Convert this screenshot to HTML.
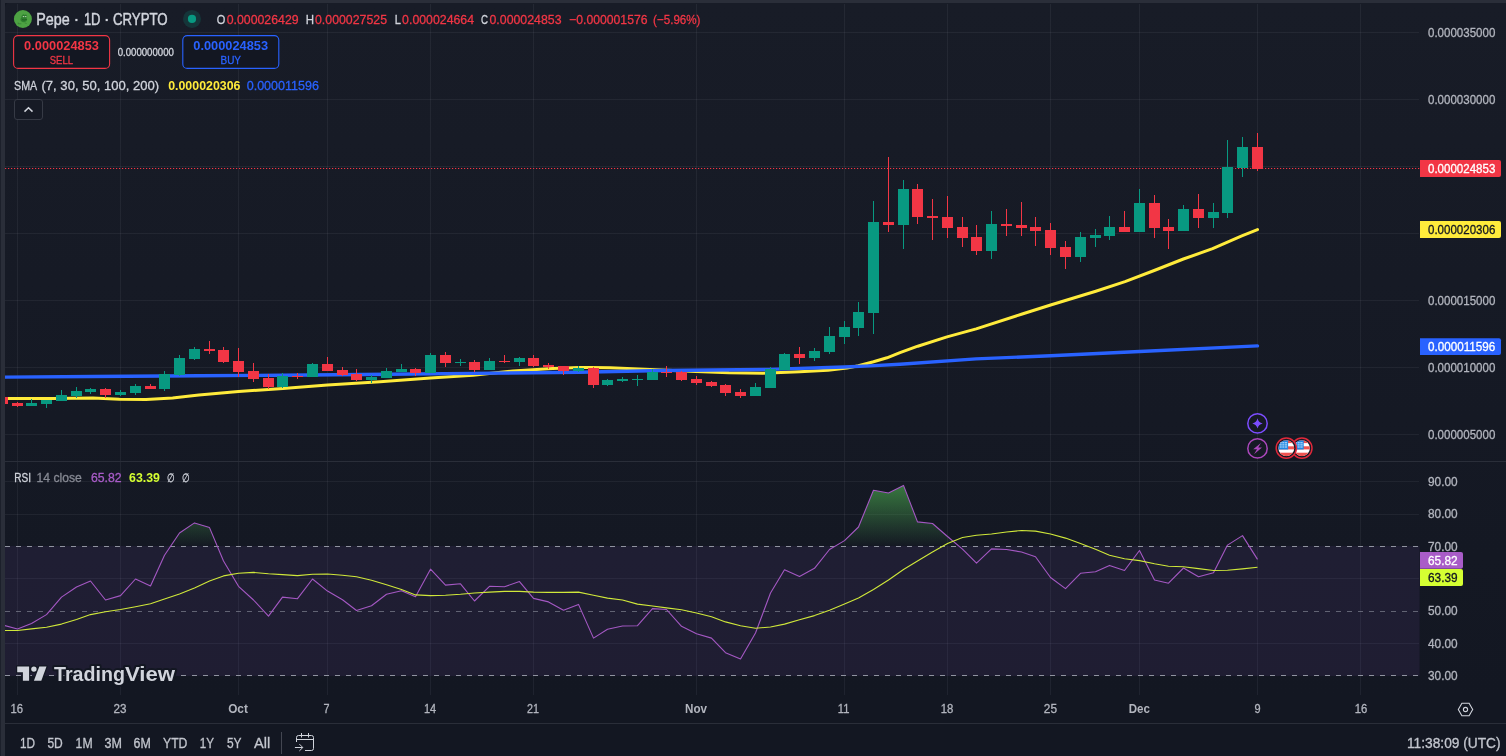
<!DOCTYPE html>
<html lang="en">
<head>
<meta charset="utf-8">
<title>Pepe · 1D · CRYPTO — TradingView</title>
<style>
html,body{margin:0;padding:0;background:#131722;}
body{width:1506px;height:756px;overflow:hidden;font-family:"Liberation Sans", sans-serif;}
#chart{position:absolute;left:0;top:0;width:1506px;height:756px;display:block;}
svg text{font-family:"Liberation Sans", sans-serif;white-space:pre;}
#chart{will-change:transform;}
</style>
</head>
<body>
<svg id="chart" width="1506" height="756" viewBox="0 0 1506 756">
<defs>
<linearGradient id="bg" x1="0" y1="0" x2="0" y2="1"><stop offset="0" stop-color="#181c27"/><stop offset="1" stop-color="#131722"/></linearGradient>
<linearGradient id="ob" gradientUnits="userSpaceOnUse" x1="0" y1="449" x2="0" y2="546.4"><stop offset="0" stop-color="#4caf50" stop-opacity="1"/><stop offset="1" stop-color="#4caf50" stop-opacity="0"/></linearGradient>
<clipPath id="plot"><rect x="5" y="3" width="1414.5" height="692"/></clipPath>
<clipPath id="above70"><rect x="5" y="462" width="1414.5" height="84.4"/></clipPath>
<clipPath id="flagclip"><circle cx="0" cy="0" r="8"/></clipPath>
</defs>

<rect x="0" y="0" width="1506" height="756" fill="#131722"/>
<rect x="0" y="0" width="1506" height="3" fill="#2a2e39"/>
<rect x="0" y="0" width="5" height="756" fill="#2a2e39"/>
<rect x="0" y="0" width="1" height="756" fill="#1c202b"/>
<path d="M5 8 Q5 3 10 3 L1506 3 L1506 695 L5 695 Z" fill="url(#bg)"/>
<g id="grid" stroke="#f0f3fa" stroke-opacity="0.06" stroke-width="1" shape-rendering="crispEdges">
<line x1="5" y1="32.5" x2="1419" y2="32.5"/>
<line x1="5" y1="99.5" x2="1419" y2="99.5"/>
<line x1="5" y1="166.5" x2="1419" y2="166.5"/>
<line x1="5" y1="233.5" x2="1419" y2="233.5"/>
<line x1="5" y1="300.5" x2="1419" y2="300.5"/>
<line x1="5" y1="367.5" x2="1419" y2="367.5"/>
<line x1="5" y1="434.5" x2="1419" y2="434.5"/>
<line x1="5" y1="481.5" x2="1419" y2="481.5"/>
<line x1="5" y1="514.5" x2="1419" y2="514.5"/>
<line x1="5" y1="578.5" x2="1419" y2="578.5"/>
<line x1="5" y1="643.5" x2="1419" y2="643.5"/>
<line x1="17.5" y1="4" x2="17.5" y2="695"/>
<line x1="120.5" y1="4" x2="120.5" y2="695"/>
<line x1="238.5" y1="4" x2="238.5" y2="695"/>
<line x1="327.5" y1="4" x2="327.5" y2="695"/>
<line x1="430.5" y1="4" x2="430.5" y2="695"/>
<line x1="533.5" y1="4" x2="533.5" y2="695"/>
<line x1="696.5" y1="4" x2="696.5" y2="695"/>
<line x1="844.5" y1="4" x2="844.5" y2="695"/>
<line x1="947.5" y1="4" x2="947.5" y2="695"/>
<line x1="1050.5" y1="4" x2="1050.5" y2="695"/>
<line x1="1139.5" y1="4" x2="1139.5" y2="695"/>
<line x1="1257.5" y1="4" x2="1257.5" y2="695"/>
<line x1="1360.5" y1="4" x2="1360.5" y2="695"/>
</g>
<g id="rsi-band">
<rect x="5" y="546" width="1414.5" height="130" fill="#8e5ac5" fill-opacity="0.1"/>
<line x1="5" y1="546.5" x2="1419.5" y2="546.5" stroke="#9093a0" stroke-opacity="1" stroke-width="1" stroke-dasharray="5 6"/>
<line x1="5" y1="611.5" x2="1419.5" y2="611.5" stroke="#9093a0" stroke-opacity="0.6" stroke-width="1" stroke-dasharray="5 6"/>
<line x1="5" y1="675.5" x2="1419.5" y2="675.5" stroke="#9093a0" stroke-opacity="1" stroke-width="1" stroke-dasharray="5 6"/>
</g>
<rect x="5" y="461" width="1501" height="1" fill="#2a2e39"/>
<line x1="5" y1="168.5" x2="1420" y2="168.5" stroke="#f23645" stroke-width="1.2" stroke-dasharray="1.2 1.8"/>
<polyline id="sma50" points="5.0,398.7 8.0,398.5 53.0,398.5 93.0,398.0 119.5,399.3 146.0,399.6 172.6,398.0 190.0,396.0 199.0,395.0 238.5,391.5 283.0,388.4 327.5,385.1 380.0,381.8 430.5,378.0 473.0,375.2 513.0,370.9 552.6,368.5 579.0,367.5 590.0,367.6 610.0,367.8 650.0,369.6 696.0,371.4 729.0,372.8 762.5,373.2 799.7,371.7 828.0,370.2 847.0,368.1 858.4,365.7 873.5,361.7 887.0,357.8 900.0,352.7 917.8,346.2 947.0,336.9 976.2,328.9 1021.4,314.3 1050.6,305.0 1095.8,291.2 1125.0,281.6 1154.2,270.5 1183.4,259.0 1212.6,248.7 1241.8,235.9 1257.5,229.6" fill="none" stroke="#ffeb3b" stroke-width="3" stroke-linejoin="round" stroke-linecap="round" clip-path="url(#plot)"/>
<polyline id="sma200" points="5.0,377.1 93.0,376.5 199.0,375.8 283.0,375.2 389.0,374.2 473.0,373.4 579.0,372.2 663.0,370.5 769.0,369.4 844.0,367.0 870.0,365.9 900.0,364.2 976.0,358.9 1050.6,355.7 1139.6,351.5 1257.5,345.9" fill="none" stroke="#2962ff" stroke-width="3.4" stroke-linejoin="round" stroke-linecap="round" clip-path="url(#plot)"/>
<g id="candles" clip-path="url(#plot)">
<rect x="2.0" y="397" width="1" height="7" fill="#f23645"/><rect x="-3.0" y="397" width="11" height="7" fill="#f23645"/>
<rect x="17.0" y="402" width="1" height="5" fill="#f23645"/><rect x="12.0" y="403" width="11" height="3" fill="#f23645"/>
<rect x="31.0" y="399" width="1" height="7" fill="#089981"/><rect x="26.0" y="403" width="11" height="3" fill="#089981"/>
<rect x="46.0" y="400" width="1" height="8" fill="#089981"/><rect x="41.0" y="400" width="11" height="4" fill="#089981"/>
<rect x="61.0" y="390" width="1" height="11" fill="#089981"/><rect x="56.0" y="395" width="11" height="6" fill="#089981"/>
<rect x="76.0" y="387" width="1" height="11" fill="#089981"/><rect x="71.0" y="391" width="11" height="5" fill="#089981"/>
<rect x="90.0" y="388" width="1" height="6" fill="#089981"/><rect x="85.0" y="389" width="11" height="3" fill="#089981"/>
<rect x="105.0" y="388" width="1" height="10" fill="#f23645"/><rect x="100.0" y="389" width="11" height="6" fill="#f23645"/>
<rect x="120.0" y="390" width="1" height="6" fill="#089981"/><rect x="115.0" y="392" width="11" height="3" fill="#089981"/>
<rect x="135.0" y="384" width="1" height="11" fill="#089981"/><rect x="130.0" y="386" width="11" height="7" fill="#089981"/>
<rect x="150.0" y="384" width="1" height="5" fill="#f23645"/><rect x="145.0" y="386" width="11" height="3" fill="#f23645"/>
<rect x="164.0" y="371" width="1" height="20" fill="#089981"/><rect x="159.0" y="374" width="11" height="15" fill="#089981"/>
<rect x="179.0" y="355" width="1" height="21" fill="#089981"/><rect x="174.0" y="358" width="11" height="17" fill="#089981"/>
<rect x="194.0" y="347" width="1" height="13" fill="#089981"/><rect x="189.0" y="349" width="11" height="10" fill="#089981"/>
<rect x="209.0" y="341" width="1" height="13" fill="#f23645"/><rect x="204.0" y="349" width="11" height="2" fill="#f23645"/>
<rect x="223.0" y="347" width="1" height="16" fill="#f23645"/><rect x="218.0" y="350" width="11" height="12" fill="#f23645"/>
<rect x="238.0" y="348" width="1" height="29" fill="#f23645"/><rect x="233.0" y="361" width="11" height="11" fill="#f23645"/>
<rect x="253.0" y="363" width="1" height="19" fill="#f23645"/><rect x="248.0" y="371" width="11" height="8" fill="#f23645"/>
<rect x="268.0" y="374" width="1" height="15" fill="#f23645"/><rect x="263.0" y="378" width="11" height="9" fill="#f23645"/>
<rect x="282.0" y="373" width="1" height="15" fill="#089981"/><rect x="277.0" y="376" width="11" height="11" fill="#089981"/>
<rect x="297.0" y="373" width="1" height="6" fill="#f23645"/><rect x="292.0" y="376" width="11" height="1" fill="#f23645"/>
<rect x="312.0" y="363" width="1" height="14" fill="#089981"/><rect x="307.0" y="364" width="11" height="13" fill="#089981"/>
<rect x="327.0" y="357" width="1" height="14" fill="#f23645"/><rect x="322.0" y="364" width="11" height="7" fill="#f23645"/>
<rect x="342.0" y="367" width="1" height="9" fill="#f23645"/><rect x="337.0" y="370" width="11" height="5" fill="#f23645"/>
<rect x="356.0" y="369" width="1" height="12" fill="#f23645"/><rect x="351.0" y="374" width="11" height="6" fill="#f23645"/>
<rect x="371.0" y="375" width="1" height="8" fill="#089981"/><rect x="366.0" y="377" width="11" height="3" fill="#089981"/>
<rect x="386.0" y="368" width="1" height="10" fill="#089981"/><rect x="381.0" y="371" width="11" height="7" fill="#089981"/>
<rect x="401.0" y="364" width="1" height="8" fill="#089981"/><rect x="396.0" y="369" width="11" height="3" fill="#089981"/>
<rect x="415.0" y="368" width="1" height="8" fill="#f23645"/><rect x="410.0" y="369" width="11" height="4" fill="#f23645"/>
<rect x="430.0" y="353" width="1" height="20" fill="#089981"/><rect x="425.0" y="355" width="11" height="18" fill="#089981"/>
<rect x="445.0" y="352" width="1" height="15" fill="#f23645"/><rect x="440.0" y="355" width="11" height="8" fill="#f23645"/>
<rect x="460.0" y="359" width="1" height="7" fill="#089981"/><rect x="455.0" y="362" width="11" height="1" fill="#089981"/>
<rect x="474.0" y="360" width="1" height="12" fill="#f23645"/><rect x="469.0" y="362" width="11" height="8" fill="#f23645"/>
<rect x="489.0" y="358" width="1" height="12" fill="#089981"/><rect x="484.0" y="361" width="11" height="9" fill="#089981"/>
<rect x="504.0" y="355" width="1" height="8" fill="#f23645"/><rect x="499.0" y="361" width="11" height="1" fill="#f23645"/>
<rect x="519.0" y="357" width="1" height="9" fill="#089981"/><rect x="514.0" y="358" width="11" height="4" fill="#089981"/>
<rect x="533.0" y="355" width="1" height="12" fill="#f23645"/><rect x="528.0" y="358" width="11" height="8" fill="#f23645"/>
<rect x="548.0" y="363" width="1" height="6" fill="#f23645"/><rect x="543.0" y="365" width="11" height="2" fill="#f23645"/>
<rect x="563.0" y="366" width="1" height="9" fill="#f23645"/><rect x="558.0" y="366" width="11" height="5" fill="#f23645"/>
<rect x="578.0" y="366" width="1" height="6" fill="#089981"/><rect x="573.0" y="368" width="11" height="3" fill="#089981"/>
<rect x="593.0" y="367" width="1" height="21" fill="#f23645"/><rect x="588.0" y="368" width="11" height="17" fill="#f23645"/>
<rect x="607.0" y="379" width="1" height="7" fill="#089981"/><rect x="602.0" y="380" width="11" height="5" fill="#089981"/>
<rect x="622.0" y="377" width="1" height="5" fill="#089981"/><rect x="617.0" y="379" width="11" height="2" fill="#089981"/>
<rect x="637.0" y="375" width="1" height="11" fill="#089981"/><rect x="632.0" y="379" width="11" height="1" fill="#089981"/>
<rect x="652.0" y="369" width="1" height="11" fill="#089981"/><rect x="647.0" y="372" width="11" height="8" fill="#089981"/>
<rect x="666.0" y="366" width="1" height="11" fill="#f23645"/><rect x="661.0" y="372" width="11" height="1" fill="#f23645"/>
<rect x="681.0" y="371" width="1" height="10" fill="#f23645"/><rect x="676.0" y="372" width="11" height="8" fill="#f23645"/>
<rect x="696.0" y="376" width="1" height="9" fill="#f23645"/><rect x="691.0" y="379" width="11" height="4" fill="#f23645"/>
<rect x="711.0" y="381" width="1" height="6" fill="#f23645"/><rect x="706.0" y="382" width="11" height="4" fill="#f23645"/>
<rect x="725.0" y="384" width="1" height="12" fill="#f23645"/><rect x="720.0" y="385" width="11" height="8" fill="#f23645"/>
<rect x="740.0" y="389" width="1" height="9" fill="#f23645"/><rect x="735.0" y="392" width="11" height="4" fill="#f23645"/>
<rect x="755.0" y="383" width="1" height="13" fill="#089981"/><rect x="750.0" y="387" width="11" height="9" fill="#089981"/>
<rect x="770.0" y="367" width="1" height="21" fill="#089981"/><rect x="765.0" y="369" width="11" height="19" fill="#089981"/>
<rect x="784.0" y="353" width="1" height="17" fill="#089981"/><rect x="779.0" y="354" width="11" height="16" fill="#089981"/>
<rect x="799.0" y="347" width="1" height="17" fill="#f23645"/><rect x="794.0" y="354" width="11" height="4" fill="#f23645"/>
<rect x="814.0" y="348" width="1" height="13" fill="#089981"/><rect x="809.0" y="351" width="11" height="7" fill="#089981"/>
<rect x="829.0" y="327" width="1" height="27" fill="#089981"/><rect x="824.0" y="336" width="11" height="16" fill="#089981"/>
<rect x="844.0" y="321" width="1" height="23" fill="#089981"/><rect x="839.0" y="327" width="11" height="10" fill="#089981"/>
<rect x="858.0" y="302" width="1" height="34" fill="#089981"/><rect x="853.0" y="312" width="11" height="16" fill="#089981"/>
<rect x="873.0" y="201" width="1" height="133" fill="#089981"/><rect x="868.0" y="222" width="11" height="91" fill="#089981"/>
<rect x="888.0" y="157" width="1" height="75" fill="#f23645"/><rect x="883.0" y="222" width="11" height="3" fill="#f23645"/>
<rect x="903.0" y="180" width="1" height="69" fill="#089981"/><rect x="898.0" y="189" width="11" height="36" fill="#089981"/>
<rect x="917.0" y="184" width="1" height="40" fill="#f23645"/><rect x="912.0" y="189" width="11" height="28" fill="#f23645"/>
<rect x="932.0" y="199" width="1" height="41" fill="#f23645"/><rect x="927.0" y="216" width="11" height="2" fill="#f23645"/>
<rect x="947.0" y="196" width="1" height="42" fill="#f23645"/><rect x="942.0" y="217" width="11" height="11" fill="#f23645"/>
<rect x="962.0" y="217" width="1" height="30" fill="#f23645"/><rect x="957.0" y="227" width="11" height="11" fill="#f23645"/>
<rect x="976.0" y="225" width="1" height="30" fill="#f23645"/><rect x="971.0" y="237" width="11" height="14" fill="#f23645"/>
<rect x="991.0" y="211" width="1" height="48" fill="#089981"/><rect x="986.0" y="224" width="11" height="27" fill="#089981"/>
<rect x="1006.0" y="209" width="1" height="27" fill="#f23645"/><rect x="1001.0" y="224" width="11" height="2" fill="#f23645"/>
<rect x="1021.0" y="202" width="1" height="34" fill="#f23645"/><rect x="1016.0" y="225" width="11" height="3" fill="#f23645"/>
<rect x="1035.0" y="217" width="1" height="29" fill="#f23645"/><rect x="1030.0" y="227" width="11" height="4" fill="#f23645"/>
<rect x="1050.0" y="223" width="1" height="32" fill="#f23645"/><rect x="1045.0" y="230" width="11" height="18" fill="#f23645"/>
<rect x="1065.0" y="241" width="1" height="28" fill="#f23645"/><rect x="1060.0" y="247" width="11" height="10" fill="#f23645"/>
<rect x="1080.0" y="232" width="1" height="30" fill="#089981"/><rect x="1075.0" y="237" width="11" height="20" fill="#089981"/>
<rect x="1095.0" y="229" width="1" height="18" fill="#089981"/><rect x="1090.0" y="235" width="11" height="3" fill="#089981"/>
<rect x="1109.0" y="216" width="1" height="24" fill="#089981"/><rect x="1104.0" y="227" width="11" height="9" fill="#089981"/>
<rect x="1124.0" y="211" width="1" height="21" fill="#f23645"/><rect x="1119.0" y="227" width="11" height="5" fill="#f23645"/>
<rect x="1139.0" y="189" width="1" height="43" fill="#089981"/><rect x="1134.0" y="203" width="11" height="29" fill="#089981"/>
<rect x="1154.0" y="195" width="1" height="43" fill="#f23645"/><rect x="1149.0" y="203" width="11" height="25" fill="#f23645"/>
<rect x="1168.0" y="219" width="1" height="30" fill="#f23645"/><rect x="1163.0" y="227" width="11" height="4" fill="#f23645"/>
<rect x="1183.0" y="205" width="1" height="26" fill="#089981"/><rect x="1178.0" y="209" width="11" height="22" fill="#089981"/>
<rect x="1198.0" y="194" width="1" height="34" fill="#f23645"/><rect x="1193.0" y="209" width="11" height="9" fill="#f23645"/>
<rect x="1213.0" y="203" width="1" height="25" fill="#089981"/><rect x="1208.0" y="212" width="11" height="6" fill="#089981"/>
<rect x="1227.0" y="140" width="1" height="78" fill="#089981"/><rect x="1222.0" y="167" width="11" height="46" fill="#089981"/>
<rect x="1242.0" y="137" width="1" height="40" fill="#089981"/><rect x="1237.0" y="147" width="11" height="21" fill="#089981"/>
<rect x="1257.0" y="133" width="1" height="38" fill="#f23645"/><rect x="1252.0" y="147" width="11" height="22" fill="#f23645"/>
</g>
<g clip-path="url(#above70)"><polygon points="2.5,546.4 2.5,625.0 17.5,629.0 31.5,623.5 46.5,614.6 61.5,597.1 76.5,587.0 90.5,581.0 105.5,600.0 120.5,595.6 135.5,579.0 150.5,586.0 164.5,555.2 179.5,533.0 194.5,522.9 209.5,527.6 223.5,561.0 238.5,586.3 253.5,600.0 268.5,616.2 282.5,597.1 297.5,598.7 312.5,579.0 327.5,591.1 342.5,599.7 356.5,610.5 371.5,605.7 386.5,594.3 401.5,590.8 415.5,596.8 430.5,569.2 445.5,585.1 460.5,583.8 474.5,601.0 489.5,586.3 504.5,586.7 519.5,581.6 533.5,598.4 548.5,601.9 563.5,610.2 578.5,604.4 593.5,638.1 607.5,629.2 622.5,626.0 637.5,625.7 652.5,608.6 666.5,609.5 681.5,626.3 696.5,633.7 711.5,638.1 725.5,652.7 740.5,659.0 755.5,633.0 770.5,593.0 784.5,569.8 799.5,576.5 814.5,568.3 829.5,549.5 844.5,540.6 858.5,527.0 873.5,490.2 888.5,493.0 903.5,485.4 917.5,521.9 932.5,523.5 947.5,536.5 962.5,549.2 976.5,563.2 991.5,548.9 1006.5,549.5 1021.5,552.0 1035.5,556.8 1050.5,577.5 1065.5,588.6 1080.5,573.3 1095.5,571.7 1109.5,565.4 1124.5,570.5 1139.5,550.5 1154.5,580.0 1168.5,583.2 1183.5,568.0 1198.5,576.8 1213.5,572.7 1227.5,545.1 1242.5,535.6 1257.5,559.4 1257.5,546.4" fill="url(#ob)"/></g>
<polyline id="rsi" points="2.5,625.0 17.5,629.0 31.5,623.5 46.5,614.6 61.5,597.1 76.5,587.0 90.5,581.0 105.5,600.0 120.5,595.6 135.5,579.0 150.5,586.0 164.5,555.2 179.5,533.0 194.5,522.9 209.5,527.6 223.5,561.0 238.5,586.3 253.5,600.0 268.5,616.2 282.5,597.1 297.5,598.7 312.5,579.0 327.5,591.1 342.5,599.7 356.5,610.5 371.5,605.7 386.5,594.3 401.5,590.8 415.5,596.8 430.5,569.2 445.5,585.1 460.5,583.8 474.5,601.0 489.5,586.3 504.5,586.7 519.5,581.6 533.5,598.4 548.5,601.9 563.5,610.2 578.5,604.4 593.5,638.1 607.5,629.2 622.5,626.0 637.5,625.7 652.5,608.6 666.5,609.5 681.5,626.3 696.5,633.7 711.5,638.1 725.5,652.7 740.5,659.0 755.5,633.0 770.5,593.0 784.5,569.8 799.5,576.5 814.5,568.3 829.5,549.5 844.5,540.6 858.5,527.0 873.5,490.2 888.5,493.0 903.5,485.4 917.5,521.9 932.5,523.5 947.5,536.5 962.5,549.2 976.5,563.2 991.5,548.9 1006.5,549.5 1021.5,552.0 1035.5,556.8 1050.5,577.5 1065.5,588.6 1080.5,573.3 1095.5,571.7 1109.5,565.4 1124.5,570.5 1139.5,550.5 1154.5,580.0 1168.5,583.2 1183.5,568.0 1198.5,576.8 1213.5,572.7 1227.5,545.1 1242.5,535.6 1257.5,559.4" fill="none" stroke="#a458c3" stroke-width="1.1" stroke-linejoin="round" clip-path="url(#plot)"/>
<polyline id="rsi-ma" points="2.5,630.5 17.5,630.5 31.5,628.9 46.5,627.3 61.5,624.1 76.5,619.4 90.5,614.6 105.5,611.7 120.5,609.5 135.5,606.7 150.5,603.8 164.5,599.0 179.5,594.0 194.5,588.0 209.5,581.0 223.5,575.9 238.5,573.3 253.5,572.4 268.5,573.7 282.5,574.6 297.5,575.6 312.5,574.3 327.5,574.0 342.5,575.2 356.5,576.8 371.5,580.3 386.5,584.8 401.5,589.5 415.5,594.9 430.5,595.6 445.5,595.2 460.5,594.3 474.5,593.0 489.5,592.1 504.5,591.4 519.5,591.4 533.5,592.1 548.5,592.4 563.5,592.4 578.5,592.1 593.5,595.2 607.5,598.1 622.5,600.0 637.5,604.1 652.5,606.0 666.5,607.9 681.5,609.8 696.5,613.0 711.5,616.8 725.5,621.9 740.5,625.7 755.5,628.3 770.5,627.0 784.5,624.1 799.5,619.7 814.5,615.6 829.5,610.2 844.5,604.1 858.5,598.1 873.5,589.5 888.5,580.0 903.5,569.5 917.5,561.0 932.5,552.0 947.5,543.5 962.5,537.5 976.5,535.2 991.5,534.0 1006.5,532.0 1021.5,530.5 1035.5,531.1 1050.5,534.0 1065.5,538.1 1080.5,543.5 1095.5,549.2 1109.5,555.2 1124.5,558.7 1139.5,560.6 1154.5,563.8 1168.5,566.3 1183.5,566.7 1198.5,568.6 1213.5,570.5 1227.5,570.2 1242.5,568.9 1257.5,567.3" fill="none" stroke="#d0e83a" stroke-width="1.1" stroke-linejoin="round" clip-path="url(#plot)"/>
<g id="events">
<circle cx="1257.5" cy="423.4" r="9.7" fill="#161a25" stroke="#7c4dff" stroke-width="1.5"/>
<path d="M1257.5 418.2 Q1258.4 422.5 1262.7 423.4 Q1258.4 424.3 1257.5 428.6 Q1256.6 424.3 1252.3 423.4 Q1256.6 422.5 1257.5 418.2Z" fill="#7c4dff"/>
<circle cx="1257.5" cy="448.4" r="9.7" fill="#161a25" stroke="#ab47bc" stroke-width="1.5"/>
<path d="M1260.9 443 L1253.2 449.3 L1257 449.3 L1254 454.2 L1262 447.6 L1258.2 447.6 Z" fill="#ab47bc"/>

<g transform="translate(1301.9 448.2)">
<circle r="10.1" fill="#161a25" stroke="#e0283a" stroke-width="1.5"/>
<g clip-path="url(#flagclip)">
<rect x="-8" y="-8" width="16" height="16" fill="#ffffff"/>
<rect x="-8" y="-8" width="16" height="2.9" fill="#ef5350"/><rect x="-8" y="-1.9" width="16" height="3.1" fill="#ef5350"/><rect x="-8" y="4.5" width="16" height="3.5" fill="#ef5350"/>
<rect x="-8" y="-8" width="9.8" height="9.3" fill="#1e88e5"/>
<g fill="#ffffff" fill-opacity="0.8"><rect x="-6.6" y="-5.9" width="7.4" height="1"/><rect x="-6.6" y="-3.8" width="7.4" height="1"/><rect x="-6.6" y="-1.7" width="7.4" height="1"/></g>
<g fill="#1e88e5" fill-opacity="0.7"><rect x="-4.7" y="-6.2" width="0.8" height="6"/><rect x="-2.3" y="-6.2" width="0.8" height="6"/></g>
</g></g>
<g transform="translate(1286.3 448.2)">
<circle r="10.1" fill="#161a25" stroke="#e0283a" stroke-width="1.5"/>
<g clip-path="url(#flagclip)">
<rect x="-8" y="-8" width="16" height="16" fill="#ffffff"/>
<rect x="-8" y="-8" width="16" height="2.9" fill="#ef5350"/><rect x="-8" y="-1.9" width="16" height="3.1" fill="#ef5350"/><rect x="-8" y="4.5" width="16" height="3.5" fill="#ef5350"/>
<rect x="-8" y="-8" width="9.8" height="9.3" fill="#1e88e5"/>
<g fill="#ffffff" fill-opacity="0.8"><rect x="-6.6" y="-5.9" width="7.4" height="1"/><rect x="-6.6" y="-3.8" width="7.4" height="1"/><rect x="-6.6" y="-1.7" width="7.4" height="1"/></g>
<g fill="#1e88e5" fill-opacity="0.7"><rect x="-4.7" y="-6.2" width="0.8" height="6"/><rect x="-2.3" y="-6.2" width="0.8" height="6"/></g>
</g></g>
</g>
<g id="price-axis">
<text x="1428.0" y="36.8" font-size="12" fill="#b2b5be" textLength="67.3" lengthAdjust="spacingAndGlyphs" stroke="#b2b5be" stroke-width="0.3">0.000035000</text>
<text x="1428.0" y="103.8" font-size="12" fill="#b2b5be" textLength="67.3" lengthAdjust="spacingAndGlyphs" stroke="#b2b5be" stroke-width="0.3">0.000030000</text>
<text x="1428.0" y="304.8" font-size="12" fill="#b2b5be" textLength="67.3" lengthAdjust="spacingAndGlyphs" stroke="#b2b5be" stroke-width="0.3">0.000015000</text>
<text x="1428.0" y="371.8" font-size="12" fill="#b2b5be" textLength="67.3" lengthAdjust="spacingAndGlyphs" stroke="#b2b5be" stroke-width="0.3">0.000010000</text>
<text x="1428.0" y="438.8" font-size="12" fill="#b2b5be" textLength="67.3" lengthAdjust="spacingAndGlyphs" stroke="#b2b5be" stroke-width="0.3">0.000005000</text>
<text x="1428.0" y="485.9" font-size="12" fill="#b2b5be" textLength="29.6" lengthAdjust="spacingAndGlyphs" stroke="#b2b5be" stroke-width="0.3">90.00</text>
<text x="1428.0" y="518.1" font-size="12" fill="#b2b5be" textLength="29.6" lengthAdjust="spacingAndGlyphs" stroke="#b2b5be" stroke-width="0.3">80.00</text>
<text x="1428.0" y="550.6" font-size="12" fill="#b2b5be" textLength="29.6" lengthAdjust="spacingAndGlyphs" stroke="#b2b5be" stroke-width="0.3">70.00</text>
<text x="1428.0" y="615.2" font-size="12" fill="#b2b5be" textLength="29.6" lengthAdjust="spacingAndGlyphs" stroke="#b2b5be" stroke-width="0.3">50.00</text>
<text x="1428.0" y="647.6" font-size="12" fill="#b2b5be" textLength="29.6" lengthAdjust="spacingAndGlyphs" stroke="#b2b5be" stroke-width="0.3">40.00</text>
<text x="1428.0" y="679.9" font-size="12" fill="#b2b5be" textLength="29.6" lengthAdjust="spacingAndGlyphs" stroke="#b2b5be" stroke-width="0.3">30.00</text>
<path d="M1420 160 H1499 Q1501 160 1501 162 V175 Q1501 177 1499 177 H1420 Z" fill="#f23645"/>
<text x="1428.0" y="172.9" font-size="12" fill="#ffffff" textLength="67.3" lengthAdjust="spacingAndGlyphs" stroke="#ffffff" stroke-width="0.3">0.000024853</text>
<path d="M1420 221 H1499 Q1501 221 1501 223 V236 Q1501 238 1499 238 H1420 Z" fill="#ffeb3b"/>
<text x="1428.0" y="233.9" font-size="12" fill="#131722" textLength="67.3" lengthAdjust="spacingAndGlyphs" stroke="#131722" stroke-width="0.3">0.000020306</text>
<path d="M1420 338.2 H1499 Q1501 338.2 1501 340.2 V353 Q1501 355 1499 355 H1420 Z" fill="#2962ff"/>
<text x="1428.0" y="351.0" font-size="12" fill="#ffffff" textLength="67.3" lengthAdjust="spacingAndGlyphs" stroke="#ffffff" stroke-width="0.3">0.000011596</text>
<path d="M1420 552 H1461 Q1463 552 1463 554 V566.8 Q1463 568.8 1461 568.8 H1420 Z" fill="#a95cc8"/>
<text x="1428.0" y="564.8" font-size="12" fill="#ffffff" textLength="29.6" lengthAdjust="spacingAndGlyphs" stroke="#ffffff" stroke-width="0.3">65.82</text>
<path d="M1420 569 H1461 Q1463 569 1463 571 V584 Q1463 586 1461 586 H1420 Z" fill="#d5ff32"/>
<text x="1428.0" y="581.9" font-size="12" fill="#131722" textLength="29.6" lengthAdjust="spacingAndGlyphs" stroke="#131722" stroke-width="0.3">63.39</text>
</g>
<g id="time-axis">
<text x="10.4" y="712.5" font-size="12" fill="#b2b5be" textLength="12.6" lengthAdjust="spacingAndGlyphs" stroke="#b2b5be" stroke-width="0.3">16</text>
<text x="113.5" y="712.5" font-size="12" fill="#b2b5be" textLength="13.0" lengthAdjust="spacingAndGlyphs" stroke="#b2b5be" stroke-width="0.3">23</text>
<text x="228.2" y="712.5" font-size="12" fill="#b2b5be" font-weight="700" textLength="19.7" lengthAdjust="spacingAndGlyphs">Oct</text>
<text x="323.4" y="712.5" font-size="12" fill="#b2b5be" textLength="6.0" lengthAdjust="spacingAndGlyphs" stroke="#b2b5be" stroke-width="0.3">7</text>
<text x="423.9" y="712.5" font-size="12" fill="#b2b5be" textLength="12.2" lengthAdjust="spacingAndGlyphs" stroke="#b2b5be" stroke-width="0.3">14</text>
<text x="527.0" y="712.5" font-size="12" fill="#b2b5be" textLength="12.0" lengthAdjust="spacingAndGlyphs" stroke="#b2b5be" stroke-width="0.3">21</text>
<text x="685.0" y="712.5" font-size="12" fill="#b2b5be" font-weight="700" textLength="22.0" lengthAdjust="spacingAndGlyphs">Nov</text>
<text x="837.8" y="712.5" font-size="12" fill="#b2b5be" textLength="11.6" lengthAdjust="spacingAndGlyphs" stroke="#b2b5be" stroke-width="0.3">11</text>
<text x="940.7" y="712.5" font-size="12" fill="#b2b5be" textLength="12.6" lengthAdjust="spacingAndGlyphs" stroke="#b2b5be" stroke-width="0.3">18</text>
<text x="1043.8" y="712.5" font-size="12" fill="#b2b5be" textLength="13.2" lengthAdjust="spacingAndGlyphs" stroke="#b2b5be" stroke-width="0.3">25</text>
<text x="1128.7" y="712.5" font-size="12" fill="#b2b5be" font-weight="700" textLength="21.2" lengthAdjust="spacingAndGlyphs">Dec</text>
<text x="1254.5" y="712.5" font-size="12" fill="#b2b5be" textLength="6.1" lengthAdjust="spacingAndGlyphs" stroke="#b2b5be" stroke-width="0.3">9</text>
<text x="1354.7" y="712.5" font-size="12" fill="#b2b5be" textLength="12.6" lengthAdjust="spacingAndGlyphs" stroke="#b2b5be" stroke-width="0.3">16</text>
</g>
<g id="axis-settings" fill="none" stroke="#d1d4dc" stroke-width="1.1">
<path d="M1458.3 709.5 L1461.9 703.3 L1469.1 703.3 L1472.7 709.5 L1469.1 715.7 L1461.9 715.7 Z"/>
<circle cx="1465.5" cy="709.5" r="2.1"/></g>
<rect x="5" y="723" width="1501" height="1" fill="#2a2e39"/>
<g id="range-toolbar">
<text x="19.9" y="748.4" font-size="14" fill="#c3c6ce" textLength="15.1" lengthAdjust="spacingAndGlyphs" stroke="#c3c6ce" stroke-width="0.3">1D</text>
<text x="47.4" y="748.4" font-size="14" fill="#c3c6ce" textLength="15.4" lengthAdjust="spacingAndGlyphs" stroke="#c3c6ce" stroke-width="0.3">5D</text>
<text x="75.6" y="748.4" font-size="14" fill="#c3c6ce" textLength="17.0" lengthAdjust="spacingAndGlyphs" stroke="#c3c6ce" stroke-width="0.3">1M</text>
<text x="104.5" y="748.4" font-size="14" fill="#c3c6ce" textLength="17.4" lengthAdjust="spacingAndGlyphs" stroke="#c3c6ce" stroke-width="0.3">3M</text>
<text x="133.6" y="748.4" font-size="14" fill="#c3c6ce" textLength="17.2" lengthAdjust="spacingAndGlyphs" stroke="#c3c6ce" stroke-width="0.3">6M</text>
<text x="163.0" y="748.4" font-size="14" fill="#c3c6ce" textLength="24.4" lengthAdjust="spacingAndGlyphs" stroke="#c3c6ce" stroke-width="0.3">YTD</text>
<text x="199.8" y="748.4" font-size="14" fill="#c3c6ce" textLength="14.2" lengthAdjust="spacingAndGlyphs" stroke="#c3c6ce" stroke-width="0.3">1Y</text>
<text x="226.9" y="748.4" font-size="14" fill="#c3c6ce" textLength="14.6" lengthAdjust="spacingAndGlyphs" stroke="#c3c6ce" stroke-width="0.3">5Y</text>
<text x="254.0" y="748.4" font-size="14" fill="#c3c6ce" textLength="16.2" lengthAdjust="spacingAndGlyphs" stroke="#c3c6ce" stroke-width="0.3">All</text>
<rect x="281" y="732" width="1" height="22" fill="#434651"/>
<g id="goto-date" fill="none" stroke="#d1d4dc" stroke-width="1" stroke-linecap="butt">
<path d="M296.5 742 V737.5 Q296.5 735.5 298.5 735.5 H311.5 Q313.5 735.5 313.5 737.5 V748.5 Q313.5 750.5 311.5 750.5 H305"/>
<path d="M296.5 739.5 H313.5"/>
<path d="M301.5 733 V737.5 M308.5 733 V737.5"/>
<path d="M294.9 747.5 H302.6 M299.4 744.1 L302.8 747.5 L299.4 750.9"/>
</g>
<text x="1407.0" y="748.2" font-size="14" fill="#c3c6ce" textLength="93.6" lengthAdjust="spacingAndGlyphs" stroke="#c3c6ce" stroke-width="0.3">11:38:09 (UTC)</text>
</g>
<g id="legend">
<g id="symbol-logo"><circle cx="22.9" cy="19" r="9" fill="#4da243"/>
<path d="M22.2 15.2 q1.2 -1.5 2.4 -0.3 q1.5 -1 2.3 0.7 q0.6 1.5 -0.5 2.4 q1.4 1.4 0.2 3 q-1.6 1.5 -4.2 1 q-2 -0.6 -2 -2.4 q0 -1.2 1 -2 q-0.3 -1.4 0.8 -2.400z" fill="#2a7a2c" fill-opacity="0.9"/>
<path d="M22.8 16.6 h1.5 M25.1 16.6 h1.3" stroke="#eef5e8" stroke-width="0.9" stroke-opacity="0.85"/>
<path d="M22 19.6 q2.2 1 4.8 -0.3" stroke="#1f5a20" stroke-width="0.9" fill="none" stroke-opacity="0.85"/>
<path d="M18.2 22.5 v1.3 h3.2 M24.5 22.8 l2.2 0.7" stroke="#2a6a2a" stroke-width="0.7" fill="none" stroke-opacity="0.7"/>
</g>
<text x="36.3" y="25.1" font-size="16" fill="#d1d4dc" textLength="33.5" lengthAdjust="spacingAndGlyphs" stroke="#d1d4dc" stroke-width="0.45">Pepe</text>
<text x="83.9" y="25.1" font-size="16" fill="#d1d4dc" textLength="16.6" lengthAdjust="spacingAndGlyphs" stroke="#d1d4dc" stroke-width="0.45">1D</text>
<text x="112.9" y="25.1" font-size="16" fill="#d1d4dc" textLength="54.8" lengthAdjust="spacingAndGlyphs" stroke="#d1d4dc" stroke-width="0.45">CRYPTO</text>
<rect x="75.3" y="18.9" width="2.2" height="2.2" fill="#d1d4dc"/><rect x="105.6" y="18.9" width="2.2" height="2.2" fill="#d1d4dc"/>
<circle cx="192" cy="18.9" r="9" fill="#089981" fill-opacity="0.2"/><circle cx="192" cy="18.9" r="4.1" fill="#089981"/>
<text x="216.8" y="23.5" font-size="13" fill="#d1d4dc" textLength="8.6" lengthAdjust="spacingAndGlyphs" stroke="#d1d4dc" stroke-width="0.3">O</text>
<text x="226.7" y="23.5" font-size="13" fill="#f23645" textLength="71.9" lengthAdjust="spacingAndGlyphs" stroke="#f23645" stroke-width="0.3">0.000026429</text>
<text x="305.7" y="23.5" font-size="13" fill="#d1d4dc" textLength="8.3" lengthAdjust="spacingAndGlyphs" stroke="#d1d4dc" stroke-width="0.3">H</text>
<text x="315.0" y="23.5" font-size="13" fill="#f23645" textLength="72.0" lengthAdjust="spacingAndGlyphs" stroke="#f23645" stroke-width="0.3">0.000027525</text>
<text x="394.7" y="23.5" font-size="13" fill="#d1d4dc" textLength="6.1" lengthAdjust="spacingAndGlyphs" stroke="#d1d4dc" stroke-width="0.3">L</text>
<text x="402.1" y="23.5" font-size="13" fill="#f23645" textLength="72.0" lengthAdjust="spacingAndGlyphs" stroke="#f23645" stroke-width="0.3">0.000024664</text>
<text x="480.9" y="23.5" font-size="13" fill="#d1d4dc" textLength="7.0" lengthAdjust="spacingAndGlyphs" stroke="#d1d4dc" stroke-width="0.3">C</text>
<text x="489.5" y="23.5" font-size="13" fill="#f23645" textLength="72.0" lengthAdjust="spacingAndGlyphs" stroke="#f23645" stroke-width="0.3">0.000024853</text>
<text x="569.2" y="23.5" font-size="13" fill="#f23645" textLength="78.3" lengthAdjust="spacingAndGlyphs" stroke="#f23645" stroke-width="0.3">−0.000001576</text>
<text x="653.1" y="23.5" font-size="13" fill="#f23645" textLength="47.4" lengthAdjust="spacingAndGlyphs" stroke="#f23645" stroke-width="0.3">(−5.96%)</text>
<rect x="13.6" y="35.6" width="96" height="32.8" rx="4.5" fill="#131722" stroke="#f23645" stroke-width="1.1"/>
<text x="24.1" y="50.1" font-size="13" fill="#f23645" font-weight="700" textLength="74.8" lengthAdjust="spacingAndGlyphs">0.000024853</text>
<text x="49.7" y="63.9" font-size="10.5" fill="#f23645" textLength="23.3" lengthAdjust="spacingAndGlyphs" stroke="#f23645" stroke-width="0.3">SELL</text>
<text x="117.7" y="56.2" font-size="10" fill="#d1d4dc" textLength="56.2" lengthAdjust="spacingAndGlyphs" stroke="#d1d4dc" stroke-width="0.3">0.000000000</text>
<rect x="182.8" y="35.6" width="96" height="32.8" rx="4.5" fill="#131722" stroke="#2962ff" stroke-width="1.1"/>
<text x="193.3" y="50.1" font-size="13" fill="#2962ff" font-weight="700" textLength="74.8" lengthAdjust="spacingAndGlyphs">0.000024853</text>
<text x="220.5" y="63.9" font-size="10.5" fill="#2962ff" textLength="20.5" lengthAdjust="spacingAndGlyphs" stroke="#2962ff" stroke-width="0.3">BUY</text>
<text x="14.0" y="89.5" font-size="13" fill="#d1d4dc" textLength="23.2" lengthAdjust="spacingAndGlyphs" stroke="#d1d4dc" stroke-width="0.3">SMA</text>
<text x="41.5" y="89.5" font-size="13" fill="#d1d4dc" textLength="117.6" lengthAdjust="spacingAndGlyphs" stroke="#d1d4dc" stroke-width="0.3">(7, 30, 50, 100, 200)</text>
<text x="168.2" y="89.5" font-size="13" fill="#ffeb3b" font-weight="700" textLength="72.2" lengthAdjust="spacingAndGlyphs">0.000020306</text>
<text x="246.7" y="89.5" font-size="13" fill="#2962ff" textLength="72.3" lengthAdjust="spacingAndGlyphs" stroke="#2962ff" stroke-width="0.3">0.000011596</text>
<rect x="14.5" y="99.5" width="28" height="20" rx="2.5" fill="#161a25" stroke="#363a45" stroke-width="1"/>
<path d="M24.5 111.6 L28.5 107.8 L32.5 111.6" fill="none" stroke="#d1d4dc" stroke-width="1.5"/>
<text x="14.2" y="482.3" font-size="12" fill="#d1d4dc" textLength="16.8" lengthAdjust="spacingAndGlyphs" stroke="#d1d4dc" stroke-width="0.3">RSI</text>
<text x="36.5" y="482.3" font-size="12" fill="#868993" textLength="45.3" lengthAdjust="spacingAndGlyphs" stroke="#868993" stroke-width="0.3">14 close</text>
<text x="90.9" y="482.3" font-size="12" fill="#a95cc8" textLength="30.6" lengthAdjust="spacingAndGlyphs" stroke="#a95cc8" stroke-width="0.3">65.82</text>
<text x="129.1" y="482.3" font-size="12" fill="#d5ff32" font-weight="700" textLength="30.9" lengthAdjust="spacingAndGlyphs">63.39</text>
<text x="167.3" y="482.3" font-size="12" fill="#d1d4dc" textLength="7.3" lengthAdjust="spacingAndGlyphs" stroke="#d1d4dc" stroke-width="0.3">∅</text>
<text x="181.6" y="482.3" font-size="12" fill="#d1d4dc" textLength="7.3" lengthAdjust="spacingAndGlyphs" stroke="#d1d4dc" stroke-width="0.3">∅</text>
</g>
<g id="tv-logo">
<g fill="none" stroke="#131722" stroke-width="2.4" stroke-linejoin="round"><path d="M17.2 666.4 H29.1 V680.7 H22.9 V672.3 H17.2 Z"/><circle cx="33.9" cy="669.1" r="2.7"/><path d="M39.3 666.4 H46.5 L41.3 680.7 H33.9 Z"/>
<text x="54.0" y="680.7" font-size="20" fill="none" font-weight="700" textLength="70.9" lengthAdjust="spacingAndGlyphs" stroke-width="4">Trading</text>
<text x="124.9" y="680.7" font-size="20" fill="none" font-weight="700" textLength="50.1" lengthAdjust="spacingAndGlyphs" stroke-width="4">View</text>
</g>
<g fill="#d1d4dc"><path d="M17.2 666.4 H29.1 V680.7 H22.9 V672.3 H17.2 Z"/><circle cx="33.9" cy="669.1" r="2.7"/><path d="M39.3 666.4 H46.5 L41.3 680.7 H33.9 Z"/>
<text x="54.0" y="680.7" font-size="20" fill="#d1d4dc" font-weight="700" textLength="70.9" lengthAdjust="spacingAndGlyphs">Trading</text>
<text x="124.9" y="680.7" font-size="20" fill="#d1d4dc" font-weight="700" textLength="50.1" lengthAdjust="spacingAndGlyphs">View</text>
</g></g>
</svg>
</body>
</html>
